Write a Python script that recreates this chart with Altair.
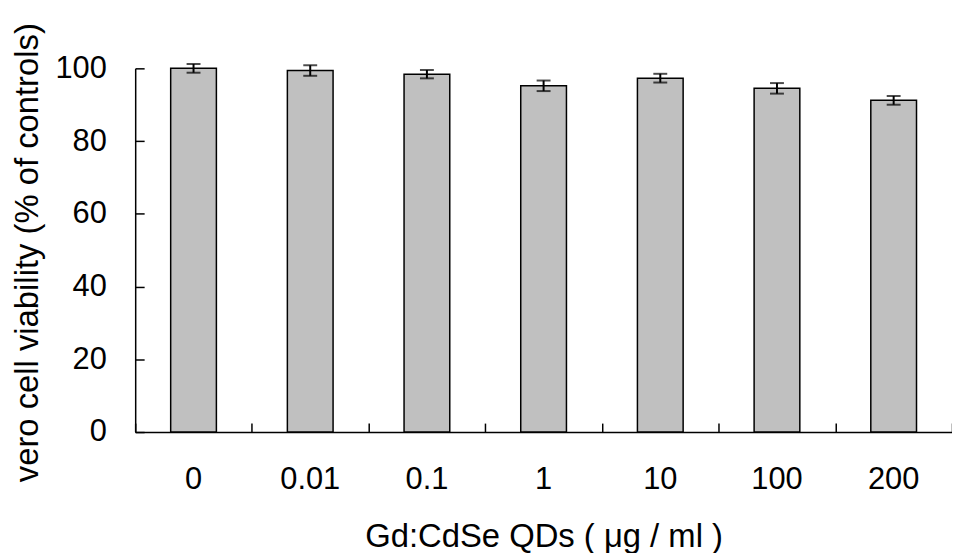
import altair as alt
import pandas as pd

conc = ["0", "0.01", "0.1", "1", "10", "100", "200"]
viability = [100.0, 99.4, 98.4, 95.2, 97.3, 94.5, 91.2]
sem = [1.2, 1.45, 1.15, 1.45, 1.2, 1.45, 1.2]
y_ticks = [0, 20, 40, 60, 80, 100]

df = pd.DataFrame({
    "conc": conc,
    "viability": viability,
    "lower": [v - e for v, e in zip(viability, sem)],
    "upper": [v + e for v, e in zip(viability, sem)],
})

W = 822
H = 366
FONT = "Liberation Sans"

yscale = alt.Scale(domain=[0, 100], nice=False, zero=True)
xscale = alt.Scale(paddingInner=0, paddingOuter=0)

base = alt.Chart(df)

bars = base.mark_bar(size=46, fill="#C0C0C0", stroke="black", strokeWidth=1.5).encode(
    x=alt.X("conc:N", sort=conc, scale=xscale,
            axis=alt.Axis(orient="bottom", title="Gd:CdSe QDs ( μg / ml )",
                          ticks=False, tickSize=0, labelPadding=33, labelAngle=0,
                          labelFontSize=31, titleFontSize=33, titleFontWeight="normal",
                          titleY=115, titleBaseline="alphabetic",
                          domainColor="black", domainWidth=1.5)),
    y=alt.Y("viability:Q", scale=yscale,
            axis=alt.Axis(values=y_ticks, ticks=False, tickSize=0, labelPadding=29,
                          grid=False, title="vero cell viability (% of controls)",
                          labelFontSize=31, titleFontSize=33, titleFontWeight="normal",
                          titleX=-98, titleY=185, titleBaseline="alphabetic",
                          domainColor="black", domainWidth=1.5)),
)

rules = base.mark_rule(strokeWidth=2, color="black").encode(
    x=alt.X("conc:N", sort=conc, scale=xscale,
            axis=alt.Axis(orient="top", offset=-H, tickBand="extent", labels=False,
                          domain=False, tickSize=9, tickColor="black", tickWidth=1.5,
                          title=None)),
    y=alt.Y("lower:Q", scale=yscale,
            axis=alt.Axis(orient="right", offset=-W, values=y_ticks, labels=False,
                          domain=False, tickSize=9, tickColor="black", tickWidth=1.5,
                          grid=False, title=None)),
    y2="upper:Q",
)

cap_hi = base.mark_tick(size=14, thickness=2, color="black").encode(
    x=alt.X("conc:N", sort=conc, scale=xscale, axis=None),
    y=alt.Y("upper:Q", scale=yscale, axis=None),
)
cap_lo = base.mark_tick(size=14, thickness=2, color="black").encode(
    x=alt.X("conc:N", sort=conc, scale=xscale, axis=None),
    y=alt.Y("lower:Q", scale=yscale, axis=None),
)

chart = alt.layer(bars, rules, cap_hi, cap_lo).resolve_axis(
    x="independent", y="independent"
).properties(
    width=W, height=H,
    autosize=alt.AutoSizeParams(type="none"),
    padding={"left": 128, "top": 59, "right": 0, "bottom": 120},
).configure_view(stroke=None).configure_axis(
    labelFont=FONT, titleFont=FONT, labelColor="black", titleColor="black"
)

chart.save("out.html", embed_options={"renderer": "svg", "actions": False})
